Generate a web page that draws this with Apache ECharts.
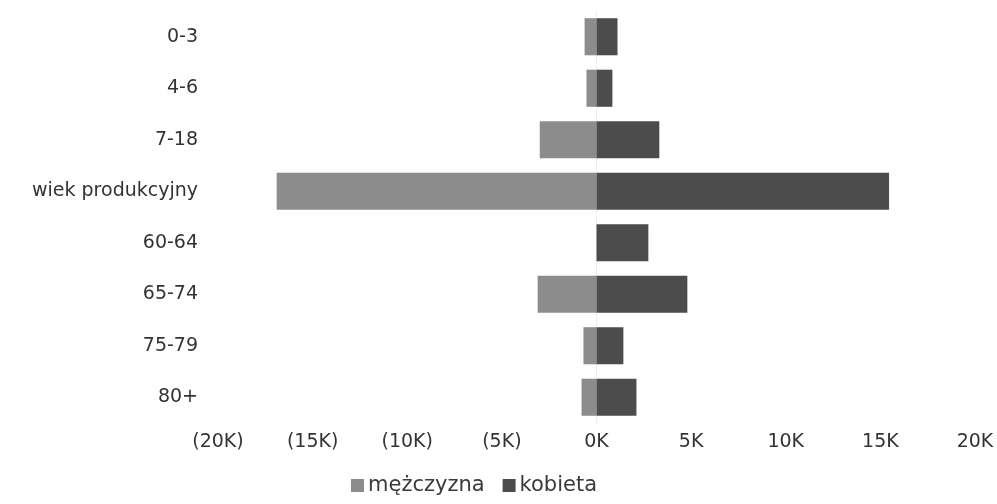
<!DOCTYPE html>
<html>
<head>
<meta charset="utf-8">
<script src="https://cdn.jsdelivr.net/npm/echarts@6/dist/echarts.min.js"></script>
<style>
html,body{margin:0;padding:0;background:#fff;}
#chart{width:997px;height:504px;}
</style>
</head>
<body>
<div id="chart"></div>
<script>
const categories = ['0-3', '4-6', '7-18', 'wiek produkcyjny', '60-64', '65-74', '75-79', '80+'];
const menValues = [-630, -530, -3000, -16900, 0, -3110, -690, -790];
const womenValues = [1110, 840, 3320, 15460, 2740, 4800, 1420, 2110];
const xTicks = [-20000, -15000, -10000, -5000, 0, 5000, 10000, 15000, 20000];

function fmt(v) {
  const k = Math.abs(v) / 1000;
  return v < 0 ? '(' + k + 'K)' : k + 'K';
}

const FONT = 'DejaVu Sans';
const chart = echarts.init(document.getElementById('chart'), null, {renderer: 'canvas'});
chart.setOption({
  animation: false,
  textStyle: {fontFamily: FONT},
  grid: {left: 218, right: 22, top: 11, bottom: 81, containLabel: false},
  legend: {
    bottom: 3,
    left: 346,
    itemWidth: 13,
    itemHeight: 13,
    itemGap: 18,
    icon: 'rect',
    textStyle: {fontSize: 21, color: '#3a3a3a', fontFamily: FONT, padding: [0, 0, 0, -1]},
    data: ['mężczyzna', 'kobieta']
  },
  xAxis: {
    type: 'value',
    min: xTicks[0],
    max: xTicks[xTicks.length - 1],
    interval: 5000,
    axisLine: {show: false},
    axisTick: {show: false},
    splitLine: {show: false},
    axisLabel: {
      formatter: fmt,
      fontSize: 19,
      color: '#333',
      margin: 10
    }
  },
  yAxis: {
    type: 'category',
    data: categories,
    inverse: true,
    axisLine: {show: true, lineStyle: {color: '#eeeeee', width: 1}},
    axisTick: {show: false},
    splitLine: {show: false},
    axisLabel: {fontSize: 19, color: '#333', margin: 20}
  },
  series: [
    {
      name: 'mężczyzna',
      type: 'bar',
      stack: 'total',
      barWidth: '72%',
      itemStyle: {color: '#8c8c8c'},
      data: menValues
    },
    {
      name: 'kobieta',
      type: 'bar',
      stack: 'total',
      barWidth: '72%',
      itemStyle: {color: '#4c4c4c'},
      data: womenValues
    }
  ]
});
</script>
</body>
</html>
